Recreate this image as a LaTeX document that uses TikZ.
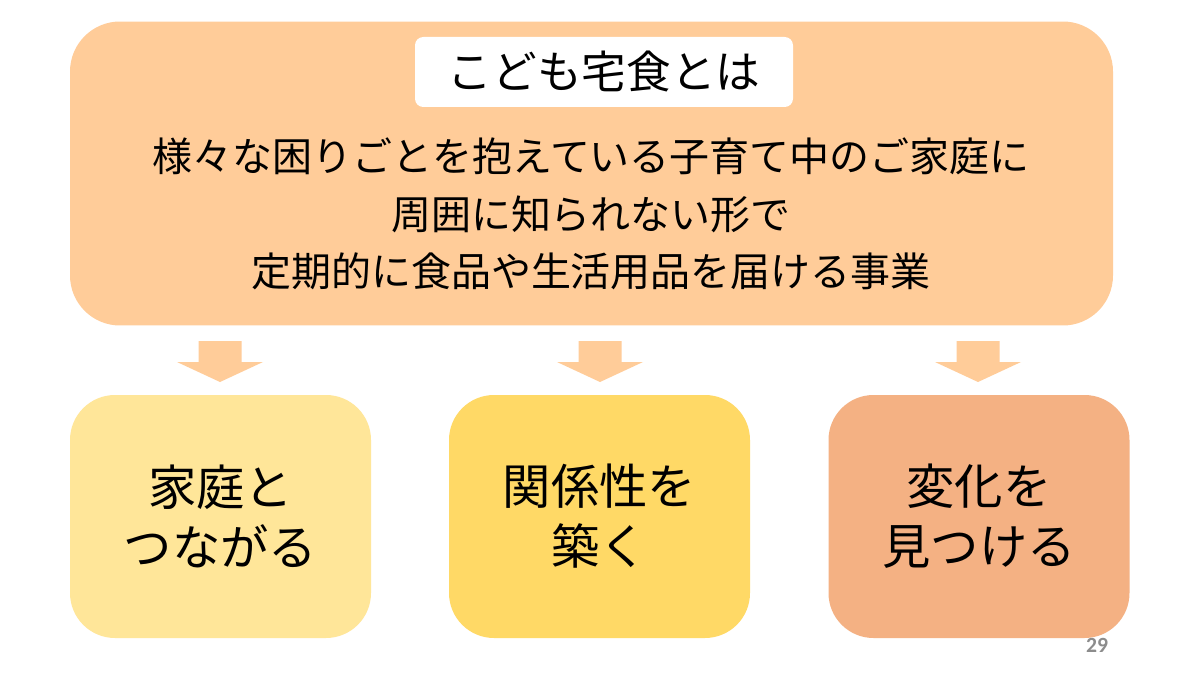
\documentclass[tikz,border=0pt]{standalone}
\usepackage{fontspec}
\setmainfont{Noto Sans CJK JP}
\newfontfamily\numfont{Carlito}
\usepackage{tikz}
\usetikzlibrary{positioning,calc}
\definecolor{peach}{HTML}{FFCC99}
\definecolor{lightyellow}{HTML}{FFE699}
\definecolor{goldyellow}{HTML}{FFD966}
\definecolor{salmon}{HTML}{F4B183}
\definecolor{pagegray}{HTML}{8C8C8C}
\tikzset{
  mainbox/.style={rectangle,rounded corners=30pt,fill=peach,minimum width=625.8pt,minimum height=182.4pt},
  titlebox/.style={rectangle,rounded corners=5pt,fill=white,minimum width=226.8pt,minimum height=42pt,font=\fontsize{26.8}{30}\selectfont},
  pointbox/.style={rectangle,rounded corners=27pt,minimum width=180.6pt,minimum height=145.8pt,align=center,font=\fontsize{29}{36}\selectfont},
  downarrow/.style={fill=peach}
}
\newcommand{\blockarrow}[1]{%
  \fill[downarrow] ($(#1)+(-21.5,0)$) -- ++(43,0) -- ++(0,21) -- ++(21.5,0)
    -- ($(#1)+(0,41)$) -- ($(#1)+(-43,21)$) -- ++(21.5,0) -- cycle;}
\begin{document}
\begin{tikzpicture}[x=0.6pt,y=-0.6pt]
\useasboundingbox[fill=white] (0,0) rectangle (1200,675);
\node[mainbox] (top) at (591.5,173.5) {};
\node[titlebox] (title) at (604,72) {こども宅食とは};
\node[align=center,font=\fontsize{24}{34.5}\selectfont] (desc) at (591,214)
  {様々な困りごとを抱えている子育て中のご家庭に\\周囲に知られない形で\\定期的に食品や生活用品を届ける事業};
\node[pointbox,fill=lightyellow] (family) at (220.5,516.5) {家庭と\\つながる};
\node[pointbox,fill=goldyellow] (relation) at (599.5,516.5) {関係性を\\築く};
\node[pointbox,fill=salmon] (change) at (979,516.5) {変化を\\見つける};
\coordinate (a1) at (220,341);
\coordinate (a2) at (600,341);
\coordinate (a3) at (978,341);
\blockarrow{a1}
\blockarrow{a2}
\blockarrow{a3}
\node[font=\numfont\bfseries\fontsize{13}{14}\selectfont,text=pagegray] (page) at (1097,645) {29};
\end{tikzpicture}
\end{document}
